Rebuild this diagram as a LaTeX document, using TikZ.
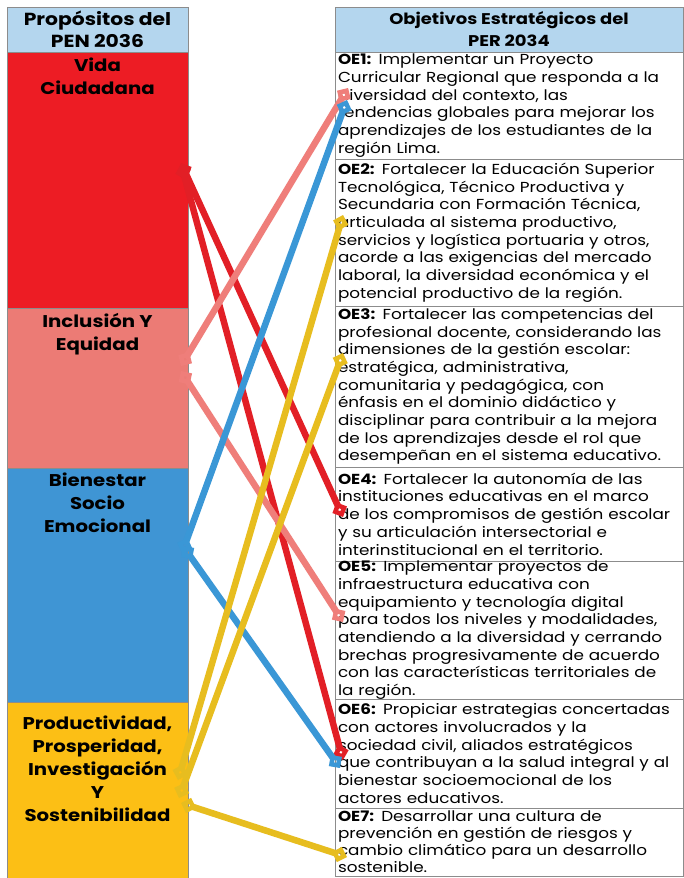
\documentclass[tikz,border=0pt]{standalone}
\usepackage{fontspec}
\setmainfont{Poppins}[FakeStretch=1.16]
\usetikzlibrary{arrows.meta}
\definecolor{linegray}{HTML}{8C8C8C}
\definecolor{headblue}{HTML}{B4D6EE}
\definecolor{vidared}{HTML}{ED1C24}
\definecolor{inclpink}{HTML}{EC7B75}
\definecolor{bienblue}{HTML}{3F95D4}
\definecolor{prodgold}{HTML}{FCBF15}
\definecolor{lnred}{HTML}{E21F26}
\definecolor{lnpink}{HTML}{EF7E7A}
\definecolor{lnblue}{HTML}{3A97D6}
\definecolor{lngold}{HTML}{E7BD1F}

\begin{document}
\begin{tikzpicture}[x=1pt, y=-1pt,
    every node/.style={inner sep=0pt, outer sep=0pt},
    head/.style={draw=linegray, fill=headblue, anchor=north west, minimum height=45pt, align=center},
    prop/.style={draw=linegray, anchor=north west, minimum width=181pt},
    proptext/.style={anchor=north, align=center, font=\bfseries\fontsize{17}{23}\selectfont},
    obj/.style={draw=linegray, anchor=north west, minimum width=348pt, text width=342pt, inner xsep=3pt, align=left, font=\fontsize{14.5}{17.7}\selectfont},
    link/.style={line width=6.5pt, {Diamond[open, length=16pt, width=16pt, line width=4.5pt]}-{Diamond[open, length=16pt, width=16pt, line width=4.5pt]}}]
    \useasboundingbox[fill=white] (0,0) rectangle (683,878);

    \node[head, minimum width=181pt, font=\bfseries\fontsize{17.5}{22}\selectfont] (pen) at (7,7) {Propósitos del\\PEN 2036};
    \node[head, minimum width=348pt, font=\bfseries\fontsize{15.5}{22}\selectfont] (per) at (335,7) {Objetivos Estratégicos del\\PER 2034};

    \node[prop, fill=vidared, minimum height=256pt] (vida) at (7,52) {};
    \node[prop, fill=inclpink, minimum height=160pt] (incl) at (7,308) {};
    \node[prop, fill=bienblue, minimum height=234pt] (bien) at (7,468) {};
    \node[prop, fill=prodgold, minimum height=180pt] (prod) at (7,702) {};
    \node[proptext] (vidat) at ([yshift=-6pt]vida.north) {Vida\\Ciudadana};
    \node[proptext] (inclt) at ([yshift=-5pt]incl.north) {Inclusión Y\\Equidad};
    \node[proptext] (bient) at ([yshift=-5pt]bien.north) {Bienestar\\Socio\\Emocional};
    \node[proptext] (prodt) at ([yshift=-14pt]prod.north) {Productividad,\\Prosperidad,\\Investigación\\Y\\Sostenibilidad};

    \node[obj, minimum height=107pt] (oe1) at (335,52) {\textbf{OE1:} Implementar un Proyecto\\Curricular Regional que responda a la\\diversidad del contexto, las\\tendencias globales para mejorar los\\aprendizajes de los estudiantes de la\\región Lima.};
    \node[obj, minimum height=147pt] (oe2) at (335,159) {\textbf{OE2:} Fortalecer la Educación Superior\\Tecnológica, Técnico Productiva y\\Secundaria con Formación Técnica,\\articulada al sistema productivo,\\servicios y logística portuaria y otros,\\acorde a las exigencias del mercado\\laboral, la diversidad económica y el\\potencial productivo de la región.};
    \node[obj, minimum height=161pt] (oe3) at (335,306) {\textbf{OE3:} Fortalecer las competencias del\\profesional docente, considerando las\\dimensiones de la gestión escolar:\\estratégica, administrativa,\\comunitaria y pedagógica, con\\énfasis en el dominio didáctico y\\disciplinar para contribuir a la mejora\\de los aprendizajes desde el rol que\\desempeñan en el sistema educativo.};
    \node[obj, minimum height=94pt] (oe4) at (335,467) {\textbf{OE4:} Fortalecer la autonomía de las\\instituciones educativas en el marco\\de los compromisos de gestión escolar\\y su articulación intersectorial e\\interinstitucional en el territorio.};
    \node[obj, minimum height=138pt] (oe5) at (335,561) {\textbf{OE5:} Implementar proyectos de\\infraestructura educativa con\\equipamiento y tecnología digital\\para todos los niveles y modalidades,\\atendiendo a la diversidad y cerrando\\brechas progresivamente de acuerdo\\con las características territoriales de\\la región.};
    \node[obj, minimum height=109pt] (oe6) at (335,699) {\textbf{OE6:} Propiciar estrategias concertadas\\con actores involucrados y la\\sociedad civil, aliados estratégicos\\que contribuyan a la salud integral y al\\bienestar socioemocional de los\\actores educativos.};
    \node[obj, minimum height=68pt, font=\fontsize{14.5}{17}\selectfont] (oe7) at (335,808) {\textbf{OE7:} Desarrollar una cultura de\\prevención en gestión de riesgos y\\cambio climático para un desarrollo\\sostenible.};

    \coordinate (v1) at (181,163);
    \coordinate (v2) at (181,164);
    \coordinate (i1) at (181,366);
    \coordinate (i2) at (181,371);
    \coordinate (b1) at (182,553);
    \coordinate (b2) at (183,546);
    \coordinate (p1) at (178,780);
    \coordinate (p2) at (179,798);
    \coordinate (p3) at (181,803);
    \coordinate (e1a) at (348,88);
    \coordinate (e1b) at (347,100);
    \coordinate (e2) at (343,215);
    \coordinate (e3) at (343,353);
    \coordinate (e4) at (343,517);
    \coordinate (e5) at (343,622);
    \coordinate (e6a) at (343,760);
    \coordinate (e6b) at (340,768);
    \coordinate (e7) at (347,857);

    \foreach \a/\b/\c in {v1/e4/lnred, v2/e6a/lnred, i1/e1a/lnpink, i2/e5/lnpink,
        b1/e1b/lnblue, b2/e6b/lnblue, p1/e2/lngold, p2/e3/lngold, p3/e7/lngold}
        \draw[link, draw=\c] (\a) -- (\b);
\end{tikzpicture}
\end{document}
